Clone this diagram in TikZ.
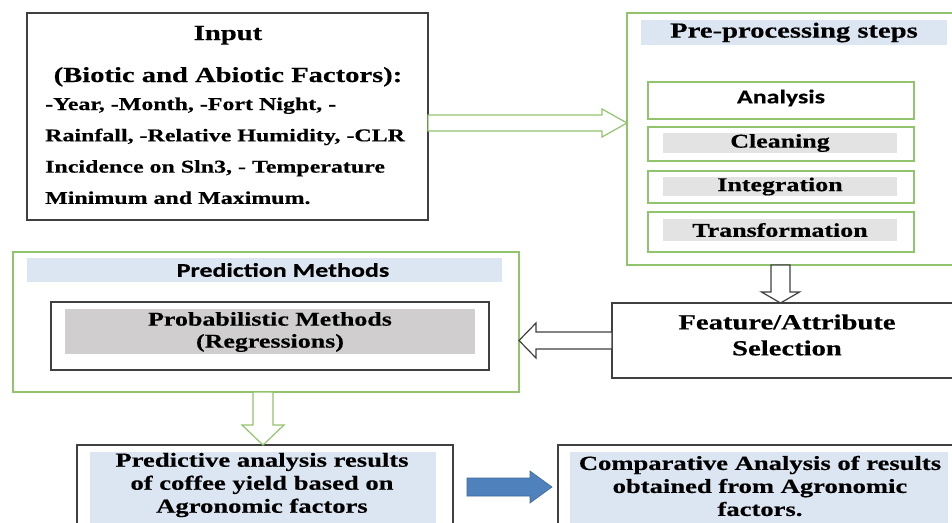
\documentclass[tikz,border=0pt]{standalone}
\usepackage{fontspec}
\setmainfont{Liberation Serif}[FakeStretch=1.33, BoldFeatures={FakeBold=0.4}]
\newfontfamily\calibsans{Carlito}[FakeStretch=1.33, BoldFeatures={FakeBold=0.4}]
\usetikzlibrary{calc,positioning}
\definecolor{leafgreen}{RGB}{146,196,110}
\definecolor{hdrblue}{RGB}{220,230,242}
\definecolor{stepgray}{RGB}{228,227,227}
\definecolor{probgray}{RGB}{208,206,206}
\definecolor{boxline}{RGB}{64,64,64}
\definecolor{arrowblue}{RGB}{79,129,189}

% block arrow: style, from, to, half shaft, half head, head length
\newcommand{\hollowarrow}[6]{%
  \coordinate (headbase) at ($(#3)!#6!(#2)$);
  \draw[#1] ($(#2)!#4!90:(#3)$) -- ($(headbase)!#4!-90:(#2)$) -- ($(headbase)!#5!-90:(#2)$) -- (#3)
    -- ($(headbase)!#5!90:(#2)$) -- ($(headbase)!#4!90:(#2)$) -- ($(#2)!#4!-90:(#3)$) -- cycle;}

\begin{document}
\begin{tikzpicture}[x=1pt, y=-1pt,
        box/.style={draw=boxline, line width=1.5pt, inner sep=0pt, outer sep=0pt},
        grnbox/.style={draw=leafgreen, line width=1.3pt, inner sep=0pt, outer sep=0pt},
        hdr/.style={fill=hdrblue, inner sep=0pt},
        shade/.style={fill=stepgray, inner sep=0pt, minimum width=234pt},
        stepbox/.style={grnbox, minimum width=266pt},
        ttl/.style={font=\fontsize{21.5}{26}\selectfont\bfseries, inner sep=0pt, align=center},
        body/.style={font=\fontsize{18}{22}\selectfont\bfseries, inner sep=0pt},
        steptxt/.style={font=\fontsize{19.5}{22}\selectfont\bfseries},
        sanstxt/.style={font=\fontsize{19.5}{22}\selectfont\calibsans\bfseries},
        restxt/.style={font=\fontsize{20}{23}\selectfont\bfseries, inner sep=0pt, align=center},
        grnarrow/.style={draw=leafgreen, fill=white, line width=1.2pt, line join=miter},
        darkarrow/.style={draw=boxline, fill=white, line width=1.2pt, line join=miter},
        bluearrow/.style={draw=arrowblue!80!black, fill=arrowblue, line width=0.6pt}]
    \useasboundingbox (0,0) rectangle (952,522);
    \clip (0,0) rectangle (952,522);

    % input
    \node[box, minimum width=401pt, minimum height=207pt] (input) at (227.5,116.5) {};
    \node[ttl, anchor=base] (intitle) at (228,40) {Input};
    \node[ttl, anchor=base] (insub) at (228,82) {(Biotic and Abiotic Factors):};
    \foreach \ln [count=\i] in {{-Year, -Month, -Fort Night, -},
            {Rainfall, -Relative Humidity, -CLR},
            {Incidence on Sln3, - Temperature},
            {Minimum and Maximum.}}
        \node[body, anchor=base west] (inl\i) at (45,78.7+31.3*\i) {\ln};

    % pre-processing
    \node[grnbox, minimum width=333pt, minimum height=252pt] (pre) at (793.5,139) {};
    \node[hdr, minimum width=306pt, minimum height=25pt, ttl] (prehead) at (794,32.5) {Pre-processing steps};
    \node[stepbox, minimum height=37pt] (sana) at (781,100.5) {};
    \node[sanstxt] (tana) at (781,98) {Analysis};
    \node[stepbox, minimum height=34pt] (sclean) at (781,144) {};
    \node[shade, minimum height=20pt, steptxt] (fclean) at (780,143) {Cleaning};
    \node[stepbox, minimum height=32pt] (sint) at (781,187) {};
    \node[shade, minimum height=19pt, steptxt] (fint) at (780,186.5) {Integration};
    \node[stepbox, minimum height=40pt] (strans) at (781,232) {};
    \node[shade, minimum height=22pt, steptxt] (ftrans) at (780,230) {Transformation};

    % feature selection
    \node[box, minimum width=348pt, minimum height=75pt] (feat) at (786,340.5) {};
    \node[ttl] (feattxt) at (787,335) {Feature/Attribute\\Selection};

    % prediction methods
    \node[grnbox, minimum width=506pt, minimum height=140pt] (pred) at (266,322) {};
    \node[hdr, minimum width=475pt, minimum height=24pt] (predhead) at (264.5,270) {};
    \node[sanstxt, inner sep=0pt] (predtxt) at (283,270) {Prediction Methods};
    \node[box, minimum width=438pt, minimum height=68pt] (prob) at (270,336) {};
    \node[fill=probgray, inner sep=0pt, minimum width=410pt, minimum height=45pt] (probfill) at (270,331.5) {};
    \node[steptxt, align=center, inner sep=0pt] (probtxt) at (270,332) {Probabilistic Methods\\(Regressions)};

    % results
    \node[box, minimum width=376pt, minimum height=95pt] (res) at (265,492.5) {};
    \node[hdr, minimum width=346pt, minimum height=88pt] (resfill) at (263,496) {};
    \node[restxt] (restxt) at (262,485) {Predictive analysis results\\of coffee yield based on\\Agronomic factors};
    \node[box, minimum width=402pt, minimum height=95pt] (comp) at (759,492.5) {};
    \node[hdr, minimum width=378pt, minimum height=88pt] (compfill) at (759,496) {};
    \node[restxt] (comptxt) at (760,486) {Comparative Analysis of results\\obtained from Agronomic\\factors.};

    % arrows
    \coordinate (a1s) at (input.east |- 0,123);
    \coordinate (a1e) at (pre.west |- 0,123);
    \hollowarrow{grnarrow}{a1s}{a1e}{8pt}{14pt}{25pt}
    \coordinate (a2s) at (pre.south -| 780.5,0);
    \coordinate (a2e) at (feat.north -| 780.5,0);
    \hollowarrow{darkarrow}{a2s}{a2e}{9.5pt}{19pt}{11pt}
    \coordinate (a3e) at (pred.east |- feat.west);
    \hollowarrow{darkarrow}{feat.west}{a3e}{8.5pt}{17.5pt}{17pt}
    \coordinate (a4s) at (pred.south -| 263,0);
    \coordinate (a4e) at (res.north -| 263,0);
    \hollowarrow{grnarrow}{a4s}{a4e}{10pt}{21pt}{20pt}
    \coordinate (a5s) at ($(res.east |- 0,487)+(14,0)$);
    \coordinate (a5e) at ($(comp.west |- 0,487)+(-6,0)$);
    \hollowarrow{bluearrow}{a5s}{a5e}{9pt}{16pt}{22pt}
\end{tikzpicture}
\end{document}
